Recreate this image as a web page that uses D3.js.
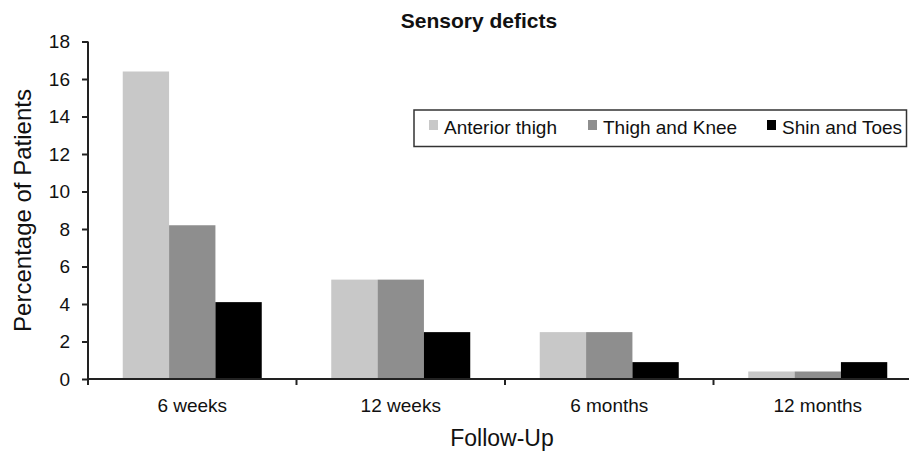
<!DOCTYPE html>
<html>
<head>
<meta charset="utf-8">
<script src="https://cdn.jsdelivr.net/npm/d3@7"></script>
<style>
  html, body { margin: 0; padding: 0; background: #fff; }
  svg { display: block; font-family: "Liberation Sans", Arial, sans-serif; }
</style>
</head>
<body>
<svg id="chart" width="909" height="451"></svg>
<script>
const categories = ["6 weeks", "12 weeks", "6 months", "12 months"];
const seriesNames = ["Anterior thigh", "Thigh and Knee", "Shin and Toes"];
const anteriorThigh = [16.4, 5.3, 2.5, 0.4];
const thighAndKnee = [8.2, 5.3, 2.5, 0.4];
const shinAndToes = [4.1, 2.5, 0.9, 0.9];
const yTicks = [0, 2, 4, 6, 8, 10, 12, 14, 16, 18];
const colors = ["#c8c8c8", "#8e8e8e", "#000000"];

const seriesValues = [anteriorThigh, thighAndKnee, shinAndToes];

const svg = d3.select("#chart");
const x0 = 88, x1 = 922, yTop = 41.5, yBottom = 379;

const x = d3.scaleBand().domain(categories).range([x0, x1]).paddingInner(0).paddingOuter(0);
const xInner = d3.scaleBand().domain(seriesNames).range([0, x.bandwidth()]).paddingOuter(0.75).paddingInner(0);
const y = d3.scaleLinear().domain([0, 18]).range([yBottom, yTop]);

// bars
const groups = svg.append("g").selectAll("g")
  .data(categories).join("g")
  .attr("transform", d => `translate(${x(d)},0)`);
groups.selectAll("rect")
  .data((c, i) => seriesNames.map((s, j) => ({ s, j, v: seriesValues[j][i] })))
  .join("rect")
  .attr("x", d => xInner(d.s))
  .attr("width", xInner.bandwidth())
  .attr("y", d => y(d.v))
  .attr("height", d => y(0) - y(d.v))
  .attr("fill", d => colors[d.j]);

// y axis
const yAxis = svg.append("g")
  .attr("transform", `translate(${x0},0)`)
  .call(d3.axisLeft(y).tickValues(yTicks).tickSize(6).tickPadding(12).tickFormat(d3.format("d")));
yAxis.select(".domain").attr("stroke", "#222").attr("stroke-width", 2).attr("d", `M0,${yTop}V${yBottom}`);
yAxis.selectAll(".tick line").attr("stroke", "#222").attr("stroke-width", 2);
yAxis.selectAll(".tick text").attr("font-size", 19).attr("fill", "#111").attr("font-family", "Liberation Sans, Arial, sans-serif");

// x axis
const xAxis = svg.append("g")
  .attr("transform", `translate(0,${yBottom})`)
  .call(d3.axisBottom(x).tickSize(0).tickPadding(19.5));
xAxis.select(".domain").attr("stroke", "#222").attr("stroke-width", 2).attr("d", `M${x0},0H${x1}`);
xAxis.selectAll(".tick text").attr("font-size", 19).attr("fill", "#111").attr("font-family", "Liberation Sans, Arial, sans-serif");
// boundary ticks
xAxis.append("g").selectAll("line")
  .data(categories).join("line")
  .attr("x1", d => x(d)).attr("x2", d => x(d))
  .attr("y1", 0).attr("y2", 6)
  .attr("stroke", "#222").attr("stroke-width", 2);

// title
svg.append("text")
  .attr("x", 479).attr("y", 28)
  .attr("text-anchor", "middle")
  .attr("font-size", 21).attr("font-weight", "bold").attr("fill", "#111")
  .text("Sensory deficts");

// axis titles
svg.append("text")
  .attr("x", 502).attr("y", 446)
  .attr("text-anchor", "middle")
  .attr("font-size", 23).attr("fill", "#111")
  .text("Follow-Up");
svg.append("text")
  .attr("transform", "translate(31,210.5) rotate(-90)")
  .attr("text-anchor", "middle")
  .attr("font-size", 24).attr("fill", "#111")
  .text("Percentage of Patients");

// legend
const legend = svg.append("g");
legend.append("rect")
  .attr("x", 414).attr("y", 110).attr("width", 492.5).attr("height", 36.5)
  .attr("fill", "#fff").attr("stroke", "#333").attr("stroke-width", 1.5);
const legendX = [429, 588, 767];
const items = legend.selectAll("g.item")
  .data(seriesNames).join("g").attr("class", "item")
  .attr("transform", (d, i) => `translate(${legendX[i]},0)`);
items.append("rect")
  .attr("x", 0).attr("y", 120).attr("width", 9).attr("height", 10)
  .attr("fill", (d, i) => colors[i]);
items.append("text")
  .attr("x", 15).attr("y", 134)
  .attr("font-size", 19).attr("fill", "#111")
  .text(d => d);
</script>
</body>
</html>
